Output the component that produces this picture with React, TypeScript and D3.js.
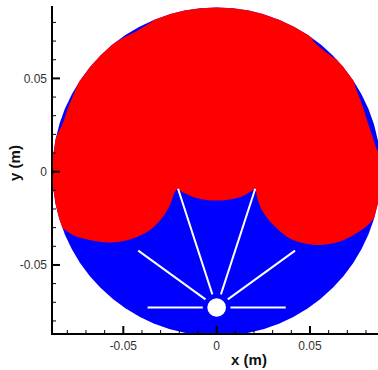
import React from "react";
import * as d3 from "d3";

// ---- data (metres) ----
const xDomain = [-0.0882, 0.0882];
const yDomain = [-0.087, 0.0888];
const majorTicks = [-0.05, 0, 0.05];
const majorLabels = ["-0.05", "0", "0.05"];
const minorTicks = [-0.08, -0.07, -0.06, -0.04, -0.03, -0.02, -0.01, 0.01, 0.02, 0.03, 0.04, 0.06, 0.07, 0.08];
const tankRadius = 0.088;
const hubCenter = [0, -0.0728];
const hubRadius = 0.005;
const spokeAngles = [0, 36, 72, 108, 144, 180];
const spokeOuter = [0.037, 0.0519, 0.0669, 0.0669, 0.0519, 0.037];
const spokeInner = 0.0074;

// red phase boundary, in runs (x, y in m). "rim" runs lie outside the tank wall (clipped).
const rimSWX = [-0.0947, -0.092];
const rimSWY = [-0.0232, 0.017];
const sliverWX = [-0.0861, -0.0828, -0.08, -0.0772, -0.0743];
const sliverWY = [0.0186, 0.025, 0.0331, 0.04, 0.047];
const rimNWX = [-0.0732];
const rimNWY = [0.0598];
const sliverNWX = [-0.0561, -0.0481, -0.0411, -0.0341];
const sliverNWY = [0.0684, 0.0727, 0.0764, 0.0807];
const rimTopX = [-0.025, 0.0232, 0.05];
const rimTopY = [0.0973, 0.0973, 0.0759];
const sliverNEX = [0.0516, 0.0564, 0.0628];
const sliverNEY = [0.07, 0.0657, 0.0609];
const rimNEX = [0.0725];
const rimNEY = [0.0572];
const sliverEX = [0.0741, 0.0778, 0.0805, 0.0832, 0.0859];
const sliverEY = [0.0459, 0.0363, 0.0277, 0.0197, 0.0116];
const rimEX = [0.0955, 0.0955];
const rimEY = [0.0036, -0.0205];
const rightLobeX = [0.0853, 0.081, 0.0752, 0.066, 0.0537, 0.0409, 0.0323, 0.0259, 0.0224, 0.0208];
const rightLobeY = [-0.0237, -0.0286, -0.0329, -0.0374, -0.0393, -0.0366, -0.0304, -0.0232, -0.0162, -0.009];
const centreArcX = [0.0208, 0.0157, 0.0109, 0, -0.0109, -0.0157, -0.0213];
const centreArcY = [-0.009, -0.0122, -0.0141, -0.0155, -0.0141, -0.0122, -0.0093];
const leftLobeX = [-0.0213, -0.0229, -0.025, -0.0293, -0.0357, -0.0448, -0.0561, -0.0679, -0.077, -0.0839];
const leftLobeY = [-0.0093, -0.0119, -0.0178, -0.0248, -0.0312, -0.0358, -0.0379, -0.0366, -0.0339, -0.0291];

const redRuns: { xs: number[]; ys: number[]; smooth: boolean }[] = [
  { xs: rimSWX, ys: rimSWY, smooth: false },
  { xs: sliverWX, ys: sliverWY, smooth: true },
  { xs: rimNWX, ys: rimNWY, smooth: false },
  { xs: sliverNWX, ys: sliverNWY, smooth: true },
  { xs: rimTopX, ys: rimTopY, smooth: false },
  { xs: sliverNEX, ys: sliverNEY, smooth: true },
  { xs: rimNEX, ys: rimNEY, smooth: false },
  { xs: sliverEX, ys: sliverEY, smooth: true },
  { xs: rimEX, ys: rimEY, smooth: false },
  { xs: rightLobeX, ys: rightLobeY, smooth: true },
  { xs: centreArcX, ys: centreArcY, smooth: true },
  { xs: leftLobeX, ys: leftLobeY, smooth: true },
];

const W = 378;
const H = 370;
const plotLeft = 52;
const plotRight = 381.3;
const plotBottom = 334;
const plotTop = 6;

export default function App() {
  const x = d3.scaleLinear().domain(xDomain).range([plotLeft, plotRight]);
  const y = d3.scaleLinear().domain(yDomain).range([plotBottom, plotTop]);
  const pxPerM = x(1) - x(0);

  let redPath = "";
  redRuns.forEach((run, k) => {
    const pts: [number, number][] = run.xs.map((v, i) => [x(v), y(run.ys[i])]);
    const gen = d3.line().curve(run.smooth ? d3.curveCatmullRom.alpha(0.5) : d3.curveLinear);
    const seg = (gen(pts) || "").replace(/Z/g, "");
    redPath += k === 0 ? seg : seg.replace(/^M/, "L");
  });
  redPath += "Z";

  const font = "'Liberation Sans', Arial, sans-serif";

  return (
    <svg width={W} height={H} style={{ position: "absolute", left: 0, top: 0, display: "block", background: "#fff" }}>
      <defs>
        <clipPath id="plotClip">
          <rect x={plotLeft} y={0} width={plotRight - plotLeft} height={plotBottom} />
        </clipPath>
        <clipPath id="tankClip">
          <circle cx={x(0)} cy={y(0)} r={tankRadius * pxPerM} />
        </clipPath>
      </defs>
      <g clipPath="url(#plotClip)">
        <circle cx={x(0)} cy={y(0)} r={tankRadius * pxPerM} fill="#0000ff" />
        <g clipPath="url(#tankClip)">
          <path d={redPath} fill="#ff0000" />
        </g>
        {spokeAngles.map((a, i) => {
          const t = (a * Math.PI) / 180;
          const cx = Math.cos(t), sy = Math.sin(t);
          return (
            <line key={i}
              x1={x(hubCenter[0] + spokeInner * cx)} y1={y(hubCenter[1] + spokeInner * sy)}
              x2={x(hubCenter[0] + spokeOuter[i] * cx)} y2={y(hubCenter[1] + spokeOuter[i] * sy)}
              stroke="#fff" strokeWidth={2} />
          );
        })}
        <circle cx={x(hubCenter[0])} cy={y(hubCenter[1])} r={hubRadius * pxPerM} fill="#fff" />
      </g>
      {/* axes */}
      <line x1={plotLeft} x2={plotLeft} y1={plotTop} y2={plotBottom + 1} stroke="#000" strokeWidth={2} />
      <line x1={plotLeft - 1} x2={W} y1={plotBottom} y2={plotBottom} stroke="#000" strokeWidth={2} />
      {minorTicks.map((t, i) => (
        <g key={"mn" + i}>
          <line x1={plotLeft} x2={plotLeft + 4} y1={y(t)} y2={y(t)} stroke="#000" strokeWidth={1} />
          <line x1={x(t)} x2={x(t)} y1={plotBottom} y2={plotBottom - 4} stroke="#000" strokeWidth={1} />
        </g>
      ))}
      {majorTicks.map((t, i) => (
        <g key={"mj" + i}>
          <line x1={plotLeft} x2={plotLeft + 8} y1={y(t)} y2={y(t)} stroke="#000" strokeWidth={2} />
          <line x1={x(t)} x2={x(t)} y1={plotBottom} y2={plotBottom - 8} stroke="#000" strokeWidth={2} />
          <text x={x(t)} y={350} textAnchor="middle" fontFamily={font} fontSize={12} fill="#333">{majorLabels[i]}</text>
          <text x={47} y={y(t)} dy="0.35em" textAnchor="end" fontFamily={font} fontSize={12} fill="#333">{majorLabels[i]}</text>
        </g>
      ))}
      <text x={249} y={365} textAnchor="middle" fontFamily={font} fontSize={15} fontWeight="bold" fill="#111">x (m)</text>
      <text transform="translate(20,163) rotate(-90)" textAnchor="middle" fontFamily={font} fontSize={15} fontWeight="bold" fill="#111">y (m)</text>
    </svg>
  );
}
